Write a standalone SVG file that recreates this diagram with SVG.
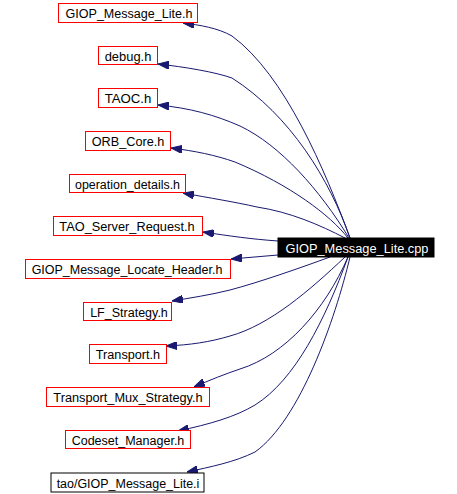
<svg xmlns="http://www.w3.org/2000/svg" width="457" height="494" viewBox="0 0 457 494">
<style>
.n rect{fill:#fff;stroke:#ff0000;stroke-width:1}
.n text{font-family:"Liberation Sans",Arial,sans-serif;font-size:12.5px;fill:#000;text-anchor:middle}
#n12 rect{stroke:#000}
#n0 rect{fill:#000;stroke:#000}
#n0 text{fill:#fff}
.e path{fill:none;stroke:#191970;stroke-width:1;marker-end:url(#ah)}
</style>
<defs>
<marker id="ah" markerUnits="userSpaceOnUse" markerWidth="11" markerHeight="8" refX="11" refY="4" orient="auto">
<path d="M0,0 L11,4 L0,8 z" fill="#191970" stroke="#191970" stroke-width="1"/>
</marker>
</defs>
<rect width="457" height="494" fill="#fff"/>
<g class="e" id="edges">
<path d="M350,238 C325,170 285,75 232,36 C218,28 200,25 183,23"/>
<path d="M350,238 C330,180 290,115 232,78 C215,72 185,67 158,64"/>
<path d="M349,238 C320,190 280,145 240,126 C215,115 190,108 158,105"/>
<path d="M348,238 C330,215 290,185 235,162 C215,155 195,151 171,148"/>
<path d="M345,238 C320,225 290,212 257,207 C235,202 210,198 183,193"/>
<path d="M278,241 C250,239 230,236 203,232"/>
<path d="M278,255 L231,259"/>
<path d="M330,257 C300,268 260,282 230,290 C210,295 190,298 172,301"/>
<path d="M345,257 C310,290 270,325 230,336 C210,342 190,345 166,346"/>
<path d="M348,257 C325,310 285,355 240,369 C225,374 210,380 194,387"/>
<path d="M348,257 C325,320 295,380 255,405 C235,417 210,424 178,431"/>
<path d="M350,257 C335,320 300,420 255,452 C235,462 210,467 187,472"/>
</g>
<g class="n" id="n0"><rect x="278" y="238" width="156" height="19"/><text x="357" y="252.5" textLength="143" lengthAdjust="spacingAndGlyphs">GIOP_Message_Lite.cpp</text></g>
<g class="n" id="n1"><rect x="58.5" y="3.5" width="139" height="19"/><text x="129" y="18" textLength="127" lengthAdjust="spacingAndGlyphs">GIOP_Message_Lite.h</text></g>
<g class="n" id="n2"><rect x="98.5" y="46.5" width="59" height="18"/><text x="128" y="60.5" textLength="46.7" lengthAdjust="spacingAndGlyphs">debug.h</text></g>
<g class="n" id="n3"><rect x="98.5" y="88.5" width="59" height="19"/><text x="128" y="103" textLength="46.7" lengthAdjust="spacingAndGlyphs">TAOC.h</text></g>
<g class="n" id="n4"><rect x="85.5" y="131.5" width="85" height="19"/><text x="128" y="146" textLength="72.6" lengthAdjust="spacingAndGlyphs">ORB_Core.h</text></g>
<g class="n" id="n5"><rect x="69.5" y="174.5" width="116" height="18"/><text x="127.5" y="188.5" textLength="105" lengthAdjust="spacingAndGlyphs">operation_details.h</text></g>
<g class="n" id="n6"><rect x="53.5" y="216.5" width="149" height="19"/><text x="127" y="231" textLength="135.3" lengthAdjust="spacingAndGlyphs">TAO_Server_Request.h</text></g>
<g class="n" id="n7"><rect x="25.5" y="259.5" width="205" height="19"/><text x="127" y="274" textLength="190.7" lengthAdjust="spacingAndGlyphs">GIOP_Message_Locate_Header.h</text></g>
<g class="n" id="n8"><rect x="83.5" y="302.5" width="88" height="18"/><text x="129" y="316.5" textLength="77.7" lengthAdjust="spacingAndGlyphs">LF_Strategy.h</text></g>
<g class="n" id="n9"><rect x="89.5" y="344.5" width="77" height="19"/><text x="128" y="359" textLength="64.3" lengthAdjust="spacingAndGlyphs">Transport.h</text></g>
<g class="n" id="n10"><rect x="46.5" y="387.5" width="163" height="19"/><text x="128" y="402" textLength="149.3" lengthAdjust="spacingAndGlyphs">Transport_Mux_Strategy.h</text></g>
<g class="n" id="n11"><rect x="65.5" y="430.5" width="125" height="18"/><text x="128" y="444.5" textLength="112.7" lengthAdjust="spacingAndGlyphs">Codeset_Manager.h</text></g>
<g class="n" id="n12"><rect x="51" y="473" width="153" height="19"/><text x="128" y="487.5" textLength="142.7" lengthAdjust="spacingAndGlyphs">tao/GIOP_Message_Lite.i</text></g>
</svg>
